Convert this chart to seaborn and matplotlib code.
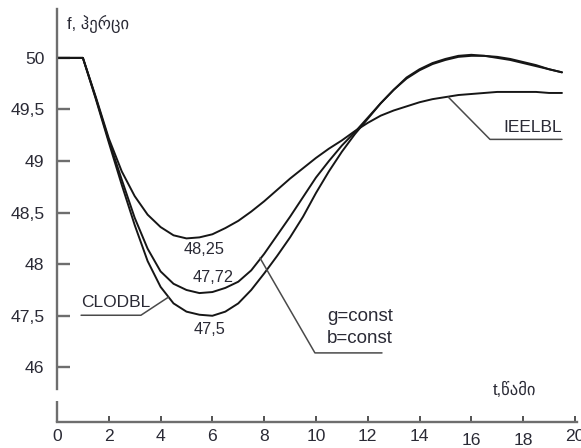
import matplotlib
matplotlib.use("Agg")
import matplotlib.pyplot as plt
import pandas as pd
import seaborn as sns

# Frequency response after a generation loss: time in seconds, frequency in Hz
time_s = [0, 0.5, 1, 1.5, 2, 2.5, 3, 3.5, 4, 4.5, 5, 5.5, 6, 6.5, 7, 7.5, 8, 8.5, 9, 9.5,
          10, 10.5, 11, 11.5, 12, 12.5, 13, 13.5, 14, 14.5, 15, 15.5, 16, 16.5, 17, 17.5,
          18, 18.5, 19, 19.5]
freq_ieelbl = [50, 50, 50, 49.62, 49.22, 48.9, 48.66, 48.48, 48.36, 48.28, 48.25, 48.26,
               48.29, 48.35, 48.42, 48.51, 48.61, 48.72, 48.83, 48.93, 49.03, 49.12, 49.2,
               49.29, 49.37, 49.44, 49.49, 49.53, 49.57, 49.6, 49.62, 49.64, 49.65, 49.66,
               49.67, 49.67, 49.67, 49.67, 49.66, 49.66]
freq_const = [50, 50, 50, 49.61, 49.2, 48.82, 48.45, 48.15, 47.93, 47.81, 47.75, 47.72,
              47.73, 47.77, 47.83, 47.94, 48.1, 48.28, 48.46, 48.65, 48.84, 49.0, 49.15,
              49.28, 49.42, 49.56, 49.69, 49.81, 49.89, 49.95, 49.99, 50.02, 50.03, 50.02,
              50.01, 49.99, 49.96, 49.93, 49.89, 49.86]
freq_clodbl = [50, 50, 50, 49.6, 49.18, 48.77, 48.38, 48.03, 47.78, 47.62, 47.54, 47.51,
               47.5, 47.54, 47.62, 47.75, 47.91, 48.08, 48.26, 48.46, 48.69, 48.9, 49.09,
               49.26, 49.41, 49.56, 49.69, 49.8, 49.88, 49.94, 49.98, 50.01, 50.02, 50.02,
               50.0, 49.98, 49.95, 49.92, 49.89, 49.86]

# Minimum values written next to the curves
min_labels = ["48,25", "47,72", "47,5"]

# Axis ticks (the lowest tick stands for the broken part of the axis)
y_ticks = [50, 49.5, 49, 48.5, 48, 47.5, 47]
y_tick_labels = ["50", "49,5", "49", "48,5", "48", "47,5", "46"]
x_ticks = [0, 2, 4, 6, 8, 10, 12, 14, 16, 18, 20]
x_tick_labels = ["0", "2", "4", "6", "8", "10", "12", "14", "16", "18", "20"]

frames = []
for name, vals in [("IEELBL", freq_ieelbl), ("const", freq_const), ("CLODBL", freq_clodbl)]:
    frames.append(pd.DataFrame({"t": time_s, "f": vals, "curve": name}))
df = pd.concat(frames, ignore_index=True)

sns.set_style("white")
plt.rcParams["font.family"] = ["Liberation Sans", "DejaVu Sans"]

fig = plt.figure(figsize=(5.81, 4.48), dpi=100)
ax = fig.add_axes([0.0981, 0.058, 0.895, 0.921])

line_col = "#161616"
axis_col = "#6e6e6e"
text_col = "#2a2a35"
lead_col = "#4a4a4a"

sns.lineplot(data=df, x="t", y="f", hue="curve", palette=[line_col] * 3,
             legend=False, linewidth=1.4, ax=ax, sort=False)

ax.set_xlim(0, 20.08)
ax.set_ylim(46.47, 50.47)
ax.set_xlabel("")
ax.set_ylabel("")

# Spines: broken y axis, plain x axis
for s in ["top", "right"]:
    ax.spines[s].set_visible(False)
ax.spines["left"].set_color(axis_col)
ax.spines["left"].set_linewidth(1.7)
ax.spines["left"].set_bounds(46.79, 50.47)
ax.spines["bottom"].set_color(axis_col)
ax.spines["bottom"].set_linewidth(1.7)
ax.plot([0, 0], [46.47, 46.67], transform=ax.get_yaxis_transform(),
        color=axis_col, lw=1.7, clip_on=False, solid_capstyle="butt")

ax.set_yticks(y_ticks)
ax.set_yticklabels(y_tick_labels)
ax.set_xticks(x_ticks)
ax.set_xticklabels(x_tick_labels)
ax.tick_params(axis="y", direction="in", length=9, width=1.7, color=axis_col,
               pad=9, labelsize=12.6, labelcolor=text_col, left=True)
ax.tick_params(axis="x", direction="in", length=4, width=1.3, color="#444444",
               pad=5, labelsize=12.6, labelcolor=text_col, bottom=True)
for i, tk in enumerate(ax.xaxis.get_major_ticks()):
    if x_tick_labels[i] in ("16", "18"):
        tk.set_pad(8)
ax.xaxis.get_major_ticks()[0].tick1line.set_visible(False)

# Axis titles
ax.text(0.386, 50.33, "f, ჰერცი", fontsize=12, color=text_col, ha="left", va="center")
ax.text(16.83, 46.78, "t,წამი", fontsize=12, color=text_col, ha="left", va="center")

# Minimum value labels
ax.text(5.66, 48.14, min_labels[0], fontsize=11.7, color=text_col, ha="center", va="center")
ax.text(6.02, 47.87, min_labels[1], fontsize=11.7, color=text_col, ha="center", va="center")
ax.text(5.89, 47.37, min_labels[2], fontsize=11.7, color=text_col, ha="center", va="center")

# Curve callouts with underline and leader
ax.text(0.93, 47.63, "CLODBL", fontsize=12.5, color=text_col, ha="left", va="center")
ax.plot([0.93, 3.24, 4.3], [47.505, 47.505, 47.68], color=lead_col, lw=1.1)

ax.text(10.42, 47.49, "g=const", fontsize=13.5, color=text_col, ha="left", va="center")
ax.text(10.42, 47.28, "b=const", fontsize=13.5, color=text_col, ha="left", va="center")
ax.plot([12.55, 9.96, 7.84], [47.14, 47.14, 48.06], color=lead_col, lw=1.1)

ax.text(17.22, 49.33, "IEELBL", fontsize=12.5, color=text_col, ha="left", va="center")
ax.plot([19.5, 16.72, 15.11], [49.21, 49.21, 49.62], color=lead_col, lw=1.1)

fig.savefig("out.png", dpi=100)
